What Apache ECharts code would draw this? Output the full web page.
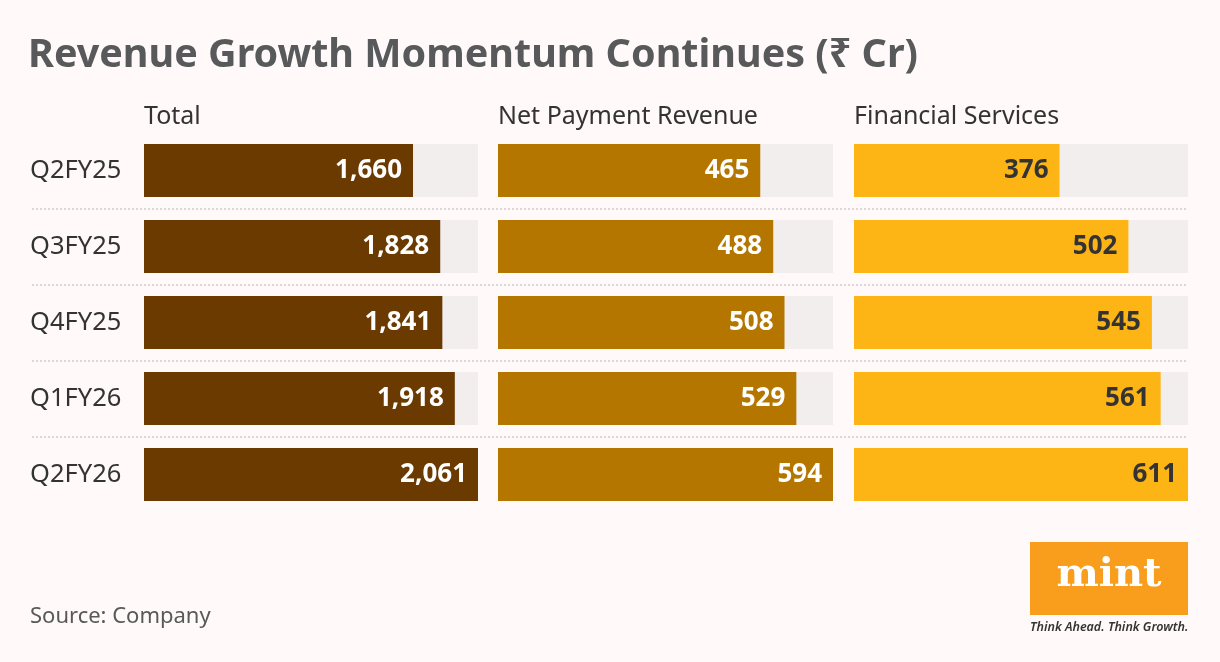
<!DOCTYPE html>
<html>
<head>
<meta charset="utf-8">
<script src="https://cdn.jsdelivr.net/npm/echarts@6/dist/echarts.min.js"></script>
<style>
  html, body { margin: 0; padding: 0; background: #fff9f9; }
  #chart { width: 1220px; height: 662px; }
</style>
</head>
<body>
<div id="chart"></div>
<script>
// data
const quarters = ['Q2FY25', 'Q3FY25', 'Q4FY25', 'Q1FY26', 'Q2FY26']
const panelNames = ['Total', 'Net Payment Revenue', 'Financial Services']
const totalRevenue = [1660, 1828, 1841, 1918, 2061]
const netPaymentRevenue = [465, 488, 508, 529, 594]
const financialServices = [376, 502, 545, 561, 611]

const panelData = [totalRevenue, netPaymentRevenue, financialServices]
const barColors = ['#6b3a00', '#b57600', '#fdb515']
const labelColors = ['#ffffff', '#ffffff', '#333333']
const panelLeft = [144, 498, 854]
const panelWidth = [334, 335, 334]

const chart = echarts.init(document.getElementById('chart'))
const fontFamily = '"Noto Sans", "Open Sans", sans-serif'

const grids = []
const xAxes = []
const yAxes = []
const series = []

panelData.forEach((values, i) => {
  const max = Math.max(...values)
  grids.push({ left: panelLeft[i], width: panelWidth[i], top: 132.5, height: 380 })
  xAxes.push({
    gridIndex: i, type: 'value', min: 0, max: max, show: false
  })
  yAxes.push({
    gridIndex: i,
    type: 'category',
    data: quarters,
    inverse: true,
    axisLine: { show: false },
    axisTick: { show: false },
    axisLabel: {
      show: i === 0,
      align: 'left',
      margin: 114,
      fontSize: 25.5,
      color: '#333333',
      fontFamily: fontFamily
    }
  })
  // background track
  series.push({
    type: 'bar',
    xAxisIndex: i,
    yAxisIndex: i,
    data: values.map(() => max),
    barWidth: 53,
    itemStyle: { color: '#f2eeee' },
    silent: true,
    animation: false
  })
  series.push({
    type: 'bar',
    xAxisIndex: i,
    yAxisIndex: i,
    data: values,
    barWidth: 53,
    barGap: '-100%',
    itemStyle: { color: barColors[i] },
    label: {
      show: true,
      position: 'insideRight',
      distance: 11,
      fontSize: 26,
      fontWeight: 'bold',
      fontFamily: fontFamily,
      color: labelColors[i],
      formatter: (p) => p.value.toLocaleString('en-US')
    },
    animation: false
  })
})

// dotted row separators across the whole table
grids.push({ left: 32, width: 1156, top: 208.5, height: 228 })
xAxes.push({ gridIndex: 3, type: 'value', show: false })
yAxes.push({
  gridIndex: 3,
  type: 'value',
  min: 0,
  max: 3,
  interval: 1,
  axisLabel: { show: false },
  axisLine: { show: false },
  axisTick: { show: false },
  splitLine: { show: true, lineStyle: { color: '#dcd6d6', type: [2, 2], width: 2 } }
})

const option = {
  backgroundColor: '#fff9f9',
  title: [
    {
      text: 'Revenue Growth Momentum Continues (₹ Cr)',
      left: 23,
      top: 31,
      textStyle: { fontSize: 39.5, fontWeight: 'bold', color: '#58595b', fontFamily: fontFamily }
    },
    ...panelNames.map((name, i) => ({
      text: name,
      left: panelLeft[i] - 5,
      top: 99,
      textStyle: { fontSize: 25, fontWeight: 'normal', color: '#333333', fontFamily: fontFamily }
    })),
    {
      text: 'Source: Company',
      left: 25,
      top: 601,
      textStyle: { fontSize: 22, fontWeight: 'normal', color: '#58595b', fontFamily: fontFamily }
    }
  ],
  grid: grids,
  xAxis: xAxes,
  yAxis: yAxes,
  series: series,
  graphic: [
    {
      type: 'rect',
      shape: { x: 1030, y: 542, width: 158, height: 73 },
      style: { fill: '#f99d1c' }
    },
    {
      type: 'text',
      x: 1109,
      y: 576,
      style: {
        text: 'mint',
        fill: '#ffffff',
        font: 'bold 40px "DejaVu Serif", "Liberation Serif", serif',
        align: 'center',
        verticalAlign: 'middle'
      }
    },
    {
      type: 'text',
      x: 1030,
      y: 627,
      style: {
        text: 'Think Ahead. Think Growth.',
        fill: '#333333',
        font: 'italic 600 12.5px "Noto Sans", sans-serif',
        verticalAlign: 'middle'
      }
    }
  ]
}

chart.setOption(option)
</script>
</body>
</html>
